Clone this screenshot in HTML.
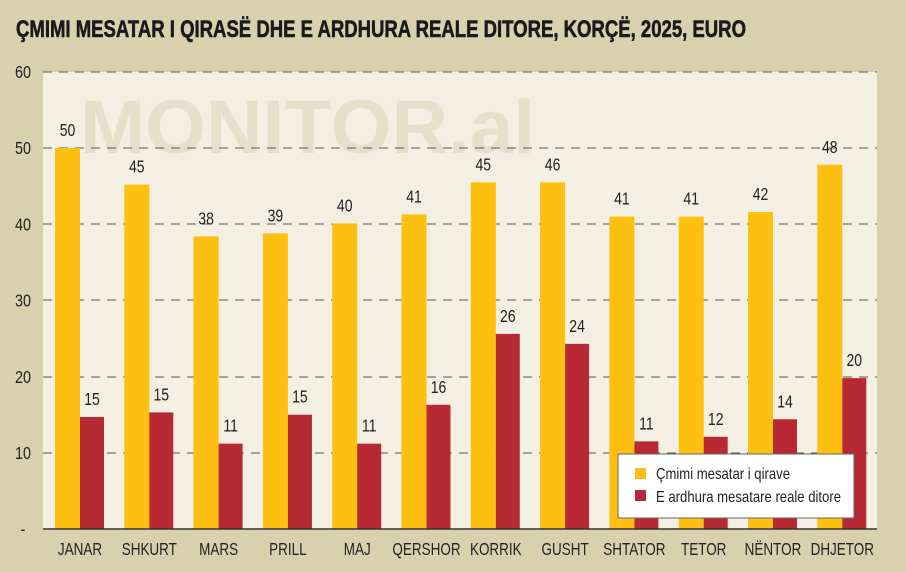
<!DOCTYPE html><html><head><style>body{margin:0;background:#d9d1ae}svg{display:block}text{font-family:"Liberation Sans Narrow","Liberation Sans",sans-serif}</style></head><body>
<svg width="906" height="572" viewBox="0 0 906 572">
<rect width="906" height="572" fill="#d9d1ae"/>
<text x="16" y="37" font-size="24" font-weight="bold" fill="#1a1a1a" stroke="#1a1a1a" stroke-width="0.6" textLength="730" lengthAdjust="spacingAndGlyphs">ÇMIMI MESATAR I QIRASË DHE E ARDHURA REALE DITORE, KORÇË, 2025, EURO</text>
<rect x="43" y="72" width="834" height="457" fill="#f3f0e3"/>
<text x="80" y="153" font-size="76" font-weight="bold" fill="#e5dfcb" textLength="455" lengthAdjust="spacingAndGlyphs">MONITOR.al</text>
<g stroke="#555" stroke-width="1" stroke-dasharray="9,7">
<line x1="43" y1="72" x2="877" y2="72"/><line x1="43" y1="148" x2="877" y2="148"/><line x1="43" y1="224" x2="877" y2="224"/><line x1="43" y1="300" x2="877" y2="300"/><line x1="43" y1="377" x2="877" y2="377"/><line x1="43" y1="453" x2="877" y2="453"/>
</g>
<g id="yt" font-size="18" fill="#222"></g>
<g id="bars"></g>
<line x1="43" y1="529" x2="877" y2="529" stroke="#333" stroke-width="1.5"/>
<rect x="618" y="454" width="236" height="64" fill="#fff" stroke="#666" stroke-width="1"/>
<rect x="635" y="468" width="11" height="11" fill="#fdc010"/>
<rect x="635" y="490" width="11" height="11" fill="#b82a33"/>
<text x="656" y="479" font-size="16" fill="#222" textLength="134" lengthAdjust="spacingAndGlyphs">Çmimi mesatar i qirave</text>
<text x="656" y="502" font-size="16" fill="#222" textLength="185" lengthAdjust="spacingAndGlyphs">E ardhura mesatare reale ditore</text>
</svg>
<script>
function T(x,y,t,fs,sx){return `<g transform="translate(${x},${y}) scale(${sx},1)"><text x="0" y="0" font-size="${fs}" fill="#222" text-anchor="middle">${t}</text></g>`;}
var yt="";[60,50,40,30,20,10].forEach((v,i)=>{yt+=T(23,78+i*76.2,v,18,0.8)});yt+=T(23,535,"-",18,0.8);
document.getElementById("yt").innerHTML=yt;
var m=["JANAR","SHKURT","MARS","PRILL","MAJ","QERSHOR","KORRIK","GUSHT","SHTATOR","TETOR","NËNTOR","DHJETOR"];
var y=[50,45.2,38.4,38.8,40.1,41.3,45.5,45.5,41,41,41.6,47.8],yl=[50,45,38,39,40,41,45,46,41,41,42,48];
var r=[14.7,15.3,11.2,15,11.2,16.3,25.6,24.3,11.5,12.1,14.4,19.8],rl=[15,15,11,15,11,16,26,24,11,12,14,20];
var s="",Y=v=>529-v*7.62;
for(var i=0;i<12;i++){var x=55+i*69.3;
s+=`<rect x="${x}" y="${Y(y[i])}" width="25" height="${y[i]*7.62}" fill="#fdc010"/>`;
s+=`<rect x="${x+25}" y="${Y(r[i])}" width="24" height="${r[i]*7.62}" fill="#b82a33"/>`;
s+=T(x+12.5,Y(y[i])-12,yl[i],18,0.78);
s+=T(x+37,Y(r[i])-12,rl[i],18,0.78);
s+=T(x+25,555,m[i],18,0.75);}
document.getElementById("bars").innerHTML=s;
</script>
</body></html>
